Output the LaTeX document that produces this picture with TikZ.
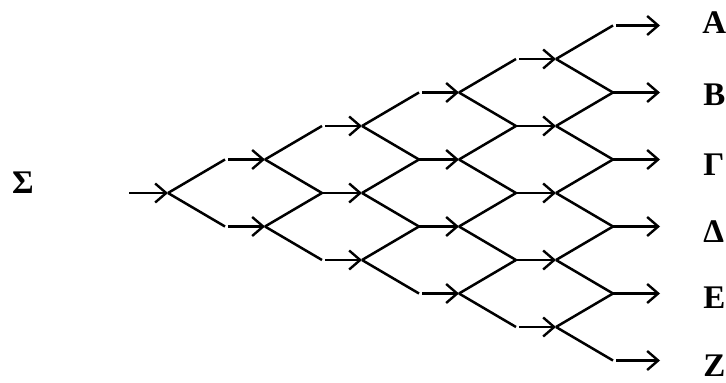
\documentclass[tikz,border=0pt]{standalone}
\usepackage{fontspec}
\setmainfont{Liberation Serif}
\usetikzlibrary{arrows.meta}
\begin{document}
\begin{tikzpicture}[x=1pt,y=-1pt,line width=2.5pt,
  ar/.style={-{Straight Barb[length=11pt,width=19pt,line width=2.4pt]}},
  lbl/.style={font=\bfseries\fontsize{33}{33}\selectfont,inner sep=0pt,anchor=west}]
\useasboundingbox (0,0) rectangle (726,383);
% split points (arrow heads)
\foreach \k in {0,...,4}{
  \foreach \j in {0,...,\k}{
    \coordinate (n-\k-\j) at ({168+97*\k},{193-33.5*\k+67*\j});
  }
}
% junction points (diagonal ends)
\foreach \m in {1,...,5}{
  \foreach \j in {0,...,\m}{
    \coordinate (m-\m-\j) at ({168+97*(\m-1)+57},{193-33.5*\m+67*\j});
  }
}
% outputs
\foreach \j in {0,...,5}{
  \coordinate (o-\j) at (660,{193-33.5*5+67*\j});
}
\coordinate (in) at (129,193);
% input arrow
\draw[ar] (in) -- (n-0-0);
% diagonals
\foreach \k in {0,...,4}{
  \pgfmathtruncatemacro\kk{\k+1}
  \foreach \j in {0,...,\k}{
    \pgfmathtruncatemacro\jj{\j+1}
    \draw (n-\k-\j) -- (m-\kk-\j);
    \draw (n-\k-\j) -- (m-\kk-\jj);
  }
}
% horizontal arrows
\foreach \m in {1,...,4}{
  \foreach \j in {0,...,\m}{
    \pgfmathsetmacro\sh{(\j==0||\j==\m)?3:0}
    \draw[ar,shorten <=\sh pt] (m-\m-\j) -- (n-\m-\j);
  }
}
\foreach \j in {0,...,5}{
  \pgfmathsetmacro\sh{(\j==0||\j==5)?3:0}
  \draw[ar,shorten <=\sh pt] (m-5-\j) -- (o-\j);
}
% labels
\node[lbl,anchor=center] (sigma) at (23,183) {Σ};
\node[lbl] (la) at (701,22.5) {Α};
\node[lbl] (lb) at (702,95) {Β};
\node[lbl] (lg) at (702,165) {Γ};
\node[lbl] (ld) at (702,232) {Δ};
\node[lbl] (le) at (702,298) {Ε};
\node[lbl] (lz) at (702,366) {Ζ};
\end{tikzpicture}
\end{document}
